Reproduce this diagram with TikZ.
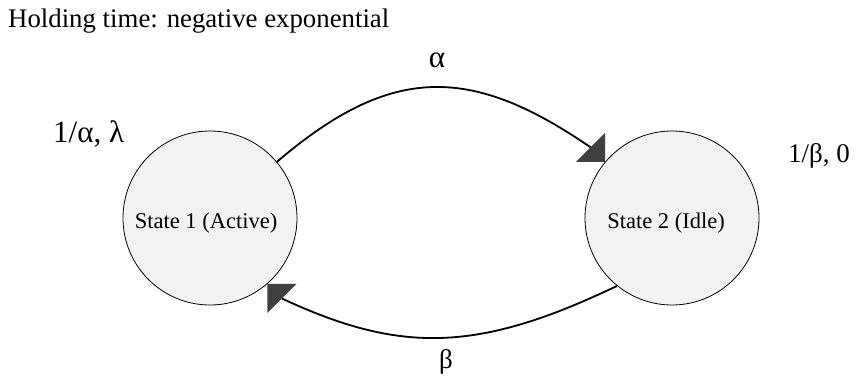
\documentclass[tikz,border=0pt]{standalone}
\usepackage{fontspec}
\setmainfont{Liberation Serif}
\usetikzlibrary{calc}
\definecolor{statefill}{HTML}{F2F2F2}
\definecolor{headfill}{HTML}{404040}
\tikzset{
  statenode/.style={circle,draw=black,line width=0.8pt,fill=statefill,minimum size=174pt,inner sep=0pt},
  statetext/.style={inner sep=0pt,anchor=base,font=\fontsize{22.5}{26}\selectfont},
  conn/.style={draw=black,line width=1.8pt},
  head/.style={fill=headfill},
  greek/.style={inner sep=0pt,font=\fontsize{27}{31}\selectfont},
  titletext/.style={inner sep=0pt,font=\fontsize{26.8}{30}\selectfont}
}
\begin{document}
\begin{tikzpicture}[x=1pt,y=-1pt]
\useasboundingbox (0,0) rectangle (860,377);
\node[titletext,anchor=base west] (title) at (8,28) {Holding time: negative exponential};
\node[statenode] (s1) at (210,218) {};
\node[statenode] (s2) at (672,218) {};
\node[statetext] (s1t) at (206,228) {State 1 (Active)};
\node[statetext] (s2t) at (666,228) {State 2 (Idle)};
\node[greek,anchor=base west,font=\fontsize{31}{35}\selectfont] (l1) at (53,143) {1/α, λ};
\node[greek,anchor=base west] (l2) at (788,163) {1/β, 0};
\node[greek,anchor=base,font=\fontsize{31}{35}\selectfont] (la) at (437,68) {α};
\node[greek,anchor=base] (lb) at (446,368) {β};
% top connector
\coordinate (t2) at (s2.140);
\draw[conn] (s1.40) .. controls +(114,-97.5) and +(-120,-82.5) .. ($(t2)+(-14.5,-14.5)$);
\fill[head] (t2) -- ++(-29,0) -- ++(29,-29) -- cycle;
% bottom connector
\coordinate (t1) at (s1.-49);
\draw[conn] (s2.231) .. controls +(-140,67) and +(118,55) .. ($(t1)+(14.5,14.5)$);
\fill[head] (t1) -- ++(29,0) -- ++(-29,29) -- cycle;
\end{tikzpicture}
\end{document}
